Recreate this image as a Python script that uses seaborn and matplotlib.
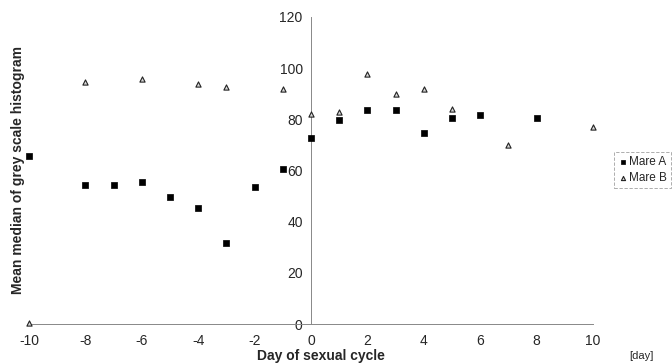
import matplotlib
matplotlib.use("Agg")
import matplotlib.pyplot as plt
import seaborn as sns
import pandas as pd

days_a = [-10, -8, -7, -6, -5, -4, -3, -2, -1, 0, 1, 2, 3, 4, 5, 6, 8]
vals_a = [65.5, 54.5, 54.5, 55.5, 49.5, 45.5, 31.5, 53.5, 60.5, 72.7, 79.7, 83.7, 83.7, 74.8, 80.7, 81.8, 80.7]
days_b = [-10, -8, -6, -4, -3, -1, 0, 1, 2, 3, 4, 5, 7, 10]
vals_b = [0.5, 94.5, 95.7, 93.7, 92.6, 91.8, 82.0, 82.8, 97.7, 89.8, 91.8, 84.0, 70.0, 77.0]
x_ticks = [-10, -8, -6, -4, -2, 0, 2, 4, 6, 8, 10]
y_ticks = [0, 20, 40, 60, 80, 100, 120]

df = pd.concat([
    pd.DataFrame({"day": days_a, "value": vals_a, "mare": "Mare A"}),
    pd.DataFrame({"day": days_b, "value": vals_b, "mare": "Mare B"}),
])

sns.set_style("white")
plt.rcParams['font.family'] = ['Liberation Sans', 'DejaVu Sans']

fig = plt.figure(figsize=(6.72, 3.64), dpi=100)
ax = fig.add_axes([29/672, 1 - 324/364, (593 - 29)/672, (324 - 17)/364])

sa = df[df.mare == "Mare A"]
sb = df[df.mare == "Mare B"]
sns.scatterplot(data=sa, x="day", y="value", marker="s", s=18, color="black",
                edgecolor="black", linewidth=0.5, ax=ax, label="Mare A", clip_on=False, zorder=3)
sns.scatterplot(data=sb, x="day", y="value", marker="^", s=14, color="#d8d8d8",
                edgecolor="#222222", linewidth=0.8, ax=ax, label="Mare B", clip_on=False, zorder=3)

ax.set_xlim(-10, 10)
ax.set_ylim(0, 120)
ax.set_xticks(x_ticks)
ax.set_yticks(y_ticks)
ax.set_xticklabels([str(t) for t in x_ticks], fontsize=8)
ax.set_yticklabels([str(t) for t in y_ticks], fontsize=8)

ax.spines['left'].set_position(('data', 0))
ax.spines['bottom'].set_position(('data', 0))
ax.spines['top'].set_visible(False)
ax.spines['right'].set_visible(False)
for sp in ['left', 'bottom']:
    ax.spines[sp].set_color('#888888')
    ax.spines[sp].set_linewidth(0.7)
ax.tick_params(axis='x', direction='inout', length=4, width=0.6, color='#777777', pad=5)
ax.tick_params(axis='y', direction='inout', length=4, width=0.6, color='#777777', pad=4)

ax.set_xlabel("")
ax.set_ylabel("")
fig.text(321/672, 1 - 356/364, "Day of sexual cycle", ha='center', va='center',
         fontsize=10, fontweight='bold')
fig.text(18/672, 1 - 170/364, "Mean median of grey scale histogram", ha='center', va='center',
         fontsize=10, fontweight='bold', rotation=90)
fig.text(641/672, 1 - 356/364, "[day]", ha='center', va='center', fontsize=8)

leg = ax.legend(loc='center left', bbox_to_anchor=(608/672, 1 - 170/364),
                bbox_transform=fig.transFigure, fontsize=8.5, frameon=True,
                handletextpad=0.0, borderpad=0.3, labelspacing=0.4, handlelength=1.0,
                fancybox=False, markerscale=0.8)
leg.get_frame().set_edgecolor('#888888')
leg.get_frame().set_linewidth(0.6)
leg.get_frame().set_linestyle((0, (4, 2)))

fig.savefig("out.png", dpi=100)
